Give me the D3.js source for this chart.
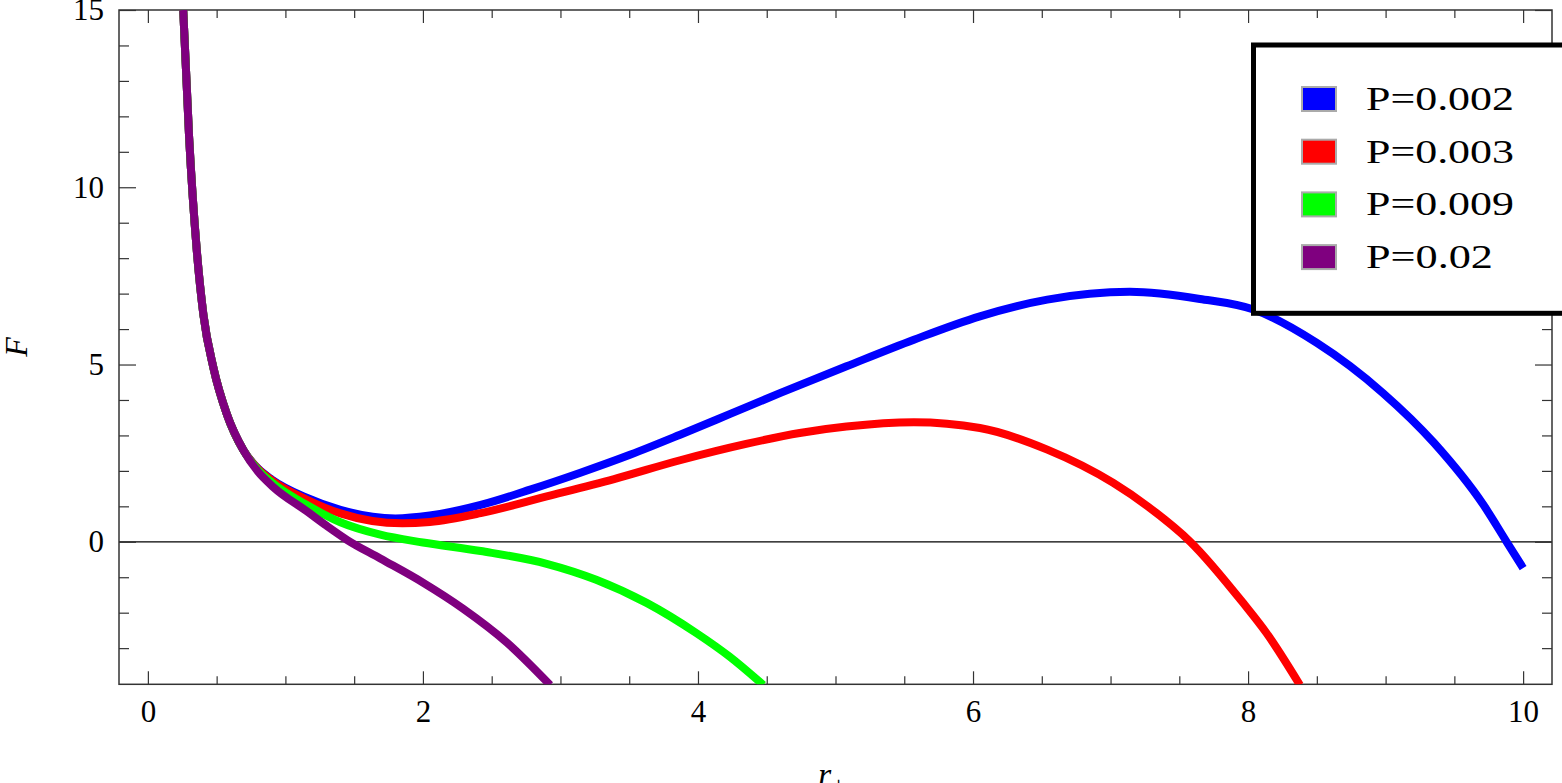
<!DOCTYPE html>
<html>
<head>
<meta charset="utf-8">
<script src="https://cdn.jsdelivr.net/npm/d3@7"></script>
<style>
  body { margin: 0; background: #fff; }
  svg { display: block; }
  .tick text { font-family: "Liberation Serif", "DejaVu Serif", serif; fill: #000; }
</style>
</head>
<body>
<svg id="chart" width="1562" height="783"></svg>
<script>
// series (r+, F)
var seriesNames = ["P=0.002", "P=0.003", "P=0.009", "P=0.02"];
var seriesColors = ["#0000ff", "#ff0000", "#00ff00", "#7f007f"];

var blueR = [0.257, 0.3, 0.356, 0.404, 0.477, 0.574, 0.695, 0.8, 0.9, 1.15, 1.4, 1.8, 2.05, 2.42, 2.78, 3.14, 3.51, 3.87, 4.23, 4.6, 5.08, 5.57, 6.05, 6.54, 7.14, 7.65, 8.04, 8.5, 8.98, 9.35, 9.71, 9.88, 10.0];
var blueF = [15, 11.4, 8.2, 6.4, 4.9, 3.6, 2.58, 2.07, 1.76, 1.25, 0.9, 0.66, 0.74, 1.04, 1.47, 1.94, 2.46, 3.02, 3.6, 4.2, 4.95, 5.7, 6.36, 6.83, 7.05, 6.85, 6.55, 5.61, 4.2, 2.8, 1.05, 0.0, -0.74];

var redR = [0.257, 0.3, 0.356, 0.404, 0.477, 0.574, 0.695, 0.8, 0.9, 1.15, 1.4, 1.85, 2.05, 2.42, 2.9, 3.39, 3.87, 4.35, 4.74, 5.08, 5.57, 6.05, 6.54, 7.02, 7.27, 7.58, 7.965, 8.135, 8.377];
var redF = [15, 11.4, 8.2, 6.4, 4.9, 3.6, 2.58, 2.06, 1.74, 1.2, 0.8, 0.52, 0.56, 0.81, 1.28, 1.77, 2.3, 2.76, 3.07, 3.25, 3.37, 3.21, 2.6, 1.66, 1.0, 0, -1.73, -2.58, -4.04];

var greenR = [0.257, 0.3, 0.356, 0.404, 0.477, 0.574, 0.695, 0.8, 0.9, 1.15, 1.4, 1.69, 2.0, 2.42, 2.9, 3.26, 3.63, 3.99, 4.23, 4.475];
var greenF = [15, 11.4, 8.2, 6.4, 4.9, 3.6, 2.58, 2.03, 1.68, 1.05, 0.55, 0.2, -0.02, -0.26, -0.62, -1.07, -1.73, -2.58, -3.24, -4.04];

var purpleR = [0.257, 0.3, 0.356, 0.404, 0.477, 0.574, 0.695, 0.8, 0.913, 1.156, 1.3, 1.45, 1.69, 2.0, 2.29, 2.61, 2.925];
var purpleF = [15, 11.4, 8.2, 6.4, 4.9, 3.6, 2.58, 1.98, 1.54, 0.86, 0.45, 0.05, -0.47, -1.15, -1.88, -2.84, -4.04];

var xMajor = [0, 2, 4, 6, 8, 10];
var yMajor = [0, 5, 10, 15];

var series = [
  {name: seriesNames[0], color: seriesColors[0], r: blueR, f: blueF},
  {name: seriesNames[1], color: seriesColors[1], r: redR, f: redF},
  {name: seriesNames[2], color: seriesColors[2], r: greenR, f: greenF},
  {name: seriesNames[3], color: seriesColors[3], r: purpleR, f: purpleF}
];

var plotLeft = 119, plotRight = 1552, plotTop = 10, plotBottom = 684.3;

var svg = d3.select("#chart");

var x = d3.scaleLinear().domain([-0.21, 10.21]).range([plotLeft, plotRight]);
var y = d3.scaleLinear().domain([-4.02, 15]).range([plotBottom, plotTop]);

var xMinor = d3.range(0, 10.01, 0.5).filter(function(v) { return xMajor.indexOf(v) < 0; });
var yMinor = d3.range(-3, 15, 1).filter(function(v) { return yMajor.indexOf(v) < 0; });

// clip to plot frame
svg.append("clipPath").attr("id", "plotclip")
  .append("rect")
    .attr("x", plotLeft).attr("y", plotTop)
    .attr("width", plotRight - plotLeft).attr("height", plotBottom - plotTop);

// zero line
svg.append("line")
    .attr("x1", plotLeft).attr("x2", plotRight)
    .attr("y1", y(0)).attr("y2", y(0))
    .attr("stroke", "#000").attr("stroke-width", 1.2);

// ticks and labels
function styleAxis(g) {
  g.select(".domain").remove();
  g.selectAll(".tick line").attr("stroke", "#333").attr("stroke-width", 1.2);
  g.selectAll(".tick text").style("font-size", "31px");
}

svg.append("g")
    .attr("transform", "translate(0," + plotBottom + ")")
    .call(d3.axisBottom(x).tickValues(xMajor).tickSizeInner(-13).tickSizeOuter(0).tickPadding(16).tickFormat(d3.format("d")))
    .call(styleAxis);
svg.append("g")
    .attr("transform", "translate(0," + plotBottom + ")")
    .call(d3.axisBottom(x).tickValues(xMinor).tickSizeInner(-8).tickSizeOuter(0).tickFormat(""))
    .call(styleAxis);
svg.append("g")
    .attr("transform", "translate(0," + plotTop + ")")
    .call(d3.axisTop(x).tickValues(xMajor).tickSizeInner(-13).tickSizeOuter(0).tickFormat(""))
    .call(styleAxis);
svg.append("g")
    .attr("transform", "translate(0," + plotTop + ")")
    .call(d3.axisTop(x).tickValues(xMinor).tickSizeInner(-8).tickSizeOuter(0).tickFormat(""))
    .call(styleAxis);

svg.append("g")
    .attr("transform", "translate(" + plotLeft + ",0)")
    .call(d3.axisLeft(y).tickValues(yMajor).tickSizeInner(-17).tickSizeOuter(0).tickPadding(15).tickFormat(d3.format("d")))
    .call(styleAxis);
svg.append("g")
    .attr("transform", "translate(" + plotLeft + ",0)")
    .call(d3.axisLeft(y).tickValues(yMinor).tickSizeInner(-10).tickSizeOuter(0).tickFormat(""))
    .call(styleAxis);
svg.append("g")
    .attr("transform", "translate(" + plotRight + ",0)")
    .call(d3.axisRight(y).tickValues(yMajor).tickSizeInner(-17).tickSizeOuter(0).tickFormat(""))
    .call(styleAxis);
svg.append("g")
    .attr("transform", "translate(" + plotRight + ",0)")
    .call(d3.axisRight(y).tickValues(yMinor).tickSizeInner(-10).tickSizeOuter(0).tickFormat(""))
    .call(styleAxis);

// frame
svg.append("rect")
    .attr("x", plotLeft).attr("y", plotTop)
    .attr("width", plotRight - plotLeft).attr("height", plotBottom - plotTop)
    .attr("fill", "none").attr("stroke", "#333").attr("stroke-width", 1.5);

// curves
var line = d3.line()
    .x(function(d) { return x(d[0]); })
    .y(function(d) { return y(d[1]); })
    .curve(d3.curveMonotoneX);

svg.append("g").attr("clip-path", "url(#plotclip)")
  .selectAll("path")
  .data(series)
  .enter().append("path")
    .attr("d", function(s) { return line(s.r.map(function(v, i) { return [v, s.f[i]]; })); })
    .attr("fill", "none")
    .attr("stroke", function(s) { return s.color; })
    .attr("stroke-width", 8)
    .attr("stroke-linecap", "butt")
    .attr("stroke-linejoin", "round");

// axis titles
svg.append("text")
    .attr("transform", "translate(27,347)rotate(-90)")
    .attr("text-anchor", "middle")
    .style("font-family", "'Liberation Serif', serif")
    .style("font-style", "italic")
    .style("font-size", "32px")
    .text("F");

var rl = svg.append("text")
    .attr("x", 832).attr("y", 786)
    .attr("text-anchor", "middle")
    .style("font-family", "'Liberation Serif', serif")
    .style("font-style", "italic")
    .style("font-size", "34px");
rl.append("tspan").text("r");
rl.append("tspan").attr("dy", 8).style("font-size", "26px").style("font-style", "normal").text("+");

// legend
var legend = svg.append("g");
legend.append("rect")
    .attr("x", 1253.5).attr("y", 45)
    .attr("width", 400).attr("height", 268.3)
    .attr("fill", "#fff").attr("stroke", "#000").attr("stroke-width", 5);

var item = legend.selectAll("g.item")
  .data(series)
  .enter().append("g")
    .attr("class", "item")
    .attr("transform", function(d, i) { return "translate(0," + (i * 52.7) + ")"; });
item.append("rect")
    .attr("x", 1302).attr("y", 87)
    .attr("width", 34).attr("height", 24)
    .attr("fill", function(d) { return d.color; })
    .attr("stroke", "#aaa").attr("stroke-width", 2);
item.append("text")
    .attr("x", 1366).attr("y", 110)
    .attr("textLength", function(d) { return d.name.length > 6 ? 148 : 127; })
    .attr("lengthAdjust", "spacingAndGlyphs")
    .style("font-family", "'Liberation Serif', serif")
    .style("font-size", "33px")
    .text(function(d) { return d.name; });
</script>
</body>
</html>
